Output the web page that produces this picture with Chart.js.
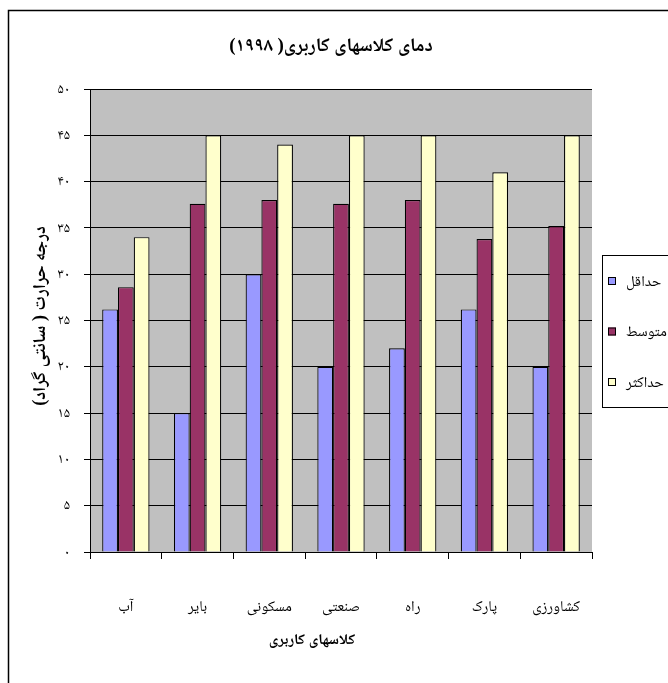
<!DOCTYPE html>
<html>
<head>
<meta charset="utf-8">
<script src="https://cdn.jsdelivr.net/npm/chart.js@4"></script>
<style>
  html, body { margin: 0; padding: 0; background: #fff; overflow: hidden; }
  #wrap { width: 668px; height: 683px; position: relative; }
</style>
</head>
<body>
<div id="wrap"><canvas id="c" width="668" height="683"></canvas></div>
<script>
// Land-use classes (x axis)
const categories = ['آب', 'بایر', 'مسکونی', 'صنعتی', 'راه', 'پارک', 'کشاورزی'];

// Temperatures per class, °C
const minTemp  = [26.2, 15, 30, 20, 22, 26.2, 20];
const meanTemp = [28.6, 37.6, 38, 37.6, 38, 33.8, 35.2];
const maxTemp  = [34, 45, 44, 45, 45, 41, 45];

const seriesNames = ['حداقل', 'متوسط', 'حداکثر'];
const yTickLabels = ['۰', '۵', '۱۰', '۱۵', '۲۰', '۲۵', '۳۰', '۳۵', '۴۰', '۴۵', '۵۰'];

const chartTitle = 'دمای کلاسهای کاربری( ۱۹۹۸)';
const yTitle = 'درجه حرارت ( سانتی گراد)';
const xTitle = 'کلاسهای کاربری';

const FONT = "'Times New Roman', 'Liberation Serif', 'Noto Naskh Arabic', 'DejaVu Sans', serif";
const colors = ['#9999FF', '#993366', '#FFFFCC'];

Chart.defaults.font.family = FONT;
Chart.defaults.color = '#000';

const frame = {
  id: 'frame',
  beforeDraw(chart) {
    const { ctx, chartArea: a } = chart;
    ctx.save();
    ctx.fillStyle = '#fff';
    ctx.fillRect(0, 0, chart.width, chart.height);
    // outer chart border (right/bottom run past the canvas)
    ctx.strokeStyle = '#000';
    ctx.lineWidth = 1.5;
    ctx.strokeRect(8.5, 10.5, 720, 720);
    // plot area fill
    ctx.fillStyle = '#C0C0C0';
    ctx.fillRect(a.left, a.top, a.right - a.left, a.bottom - a.top);
    ctx.restore();
  },
  afterDraw(chart) {
    const { ctx } = chart;
    ctx.save();
    ctx.fillStyle = '#000';
    ctx.direction = 'rtl';
    ctx.textAlign = 'center';
    ctx.textBaseline = 'middle';

    // chart title
    ctx.font = 'bold 19px ' + FONT;
    ctx.fillText(chartTitle, 331, 46);

    // x-axis title
    ctx.font = 'bold 15px ' + FONT;
    ctx.fillText(xTitle, 312, 640);

    // y-axis title
    ctx.save();
    ctx.translate(40, 316);
    ctx.rotate(-Math.PI / 2);
    ctx.font = 'bold 18px ' + FONT;
    ctx.fillText(yTitle, 0, 0);
    ctx.restore();

    // legend
    ctx.strokeStyle = '#000';
    ctx.lineWidth = 1;
    ctx.strokeRect(602.5, 255.5, 120, 152);
    ctx.font = '15px ' + FONT;
    ctx.textAlign = 'left';
    ctx.direction = 'ltr';
    chart.data.datasets.forEach((ds, i) => {
      const cy = 281 + i * 50.5;
      ctx.fillStyle = ds.backgroundColor;
      ctx.fillRect(608, cy - 4, 8, 8);
      ctx.strokeRect(608.5, cy - 3.5, 7, 7);
      ctx.fillStyle = '#000';
      ctx.fillText(ds.label, 626, cy + 1);
    });
    ctx.restore();
  }
};

new Chart(document.getElementById('c'), {
  type: 'bar',
  data: {
    labels: categories,
    datasets: [
      { label: seriesNames[0], data: minTemp,  backgroundColor: colors[0] },
      { label: seriesNames[1], data: meanTemp, backgroundColor: colors[1] },
      { label: seriesNames[2], data: maxTemp,  backgroundColor: colors[2] }
    ].map(d => Object.assign(d, {
      borderColor: '#000', borderWidth: 1.2,
      categoryPercentage: 0.66, barPercentage: 1.0
    }))
  },
  options: {
    responsive: false,
    animation: false,
    devicePixelRatio: 1,
    layout: { padding: { left: 10, right: 76, top: 89, bottom: 41 } },
    plugins: {
      legend: { display: false },
      title: { display: false },
      tooltip: { enabled: false }
    },
    scales: {
      x: {
        grid: { drawOnChartArea: false, drawTicks: true, tickLength: 7, color: '#000', offset: true },
        border: { color: '#000', width: 1 },
        ticks: { padding: 36, color: '#000', font: { size: 15, lineHeight: 1.6 }, maxRotation: 0 },
        afterFit(s) { s.height = 90; }
      },
      y: {
        min: 0, max: 50,
        ticks: {
          stepSize: 5, padding: 14, color: '#000', font: { size: 14 },
          callback: (v, i) => yTickLabels[i]
        },
        grid: { color: '#000', lineWidth: 1, tickLength: 6, drawTicks: true },
        border: { color: '#000', width: 1 },
        afterFit(s) { s.width = 80; }
      }
    }
  },
  plugins: [frame]
});
</script>
</body>
</html>
